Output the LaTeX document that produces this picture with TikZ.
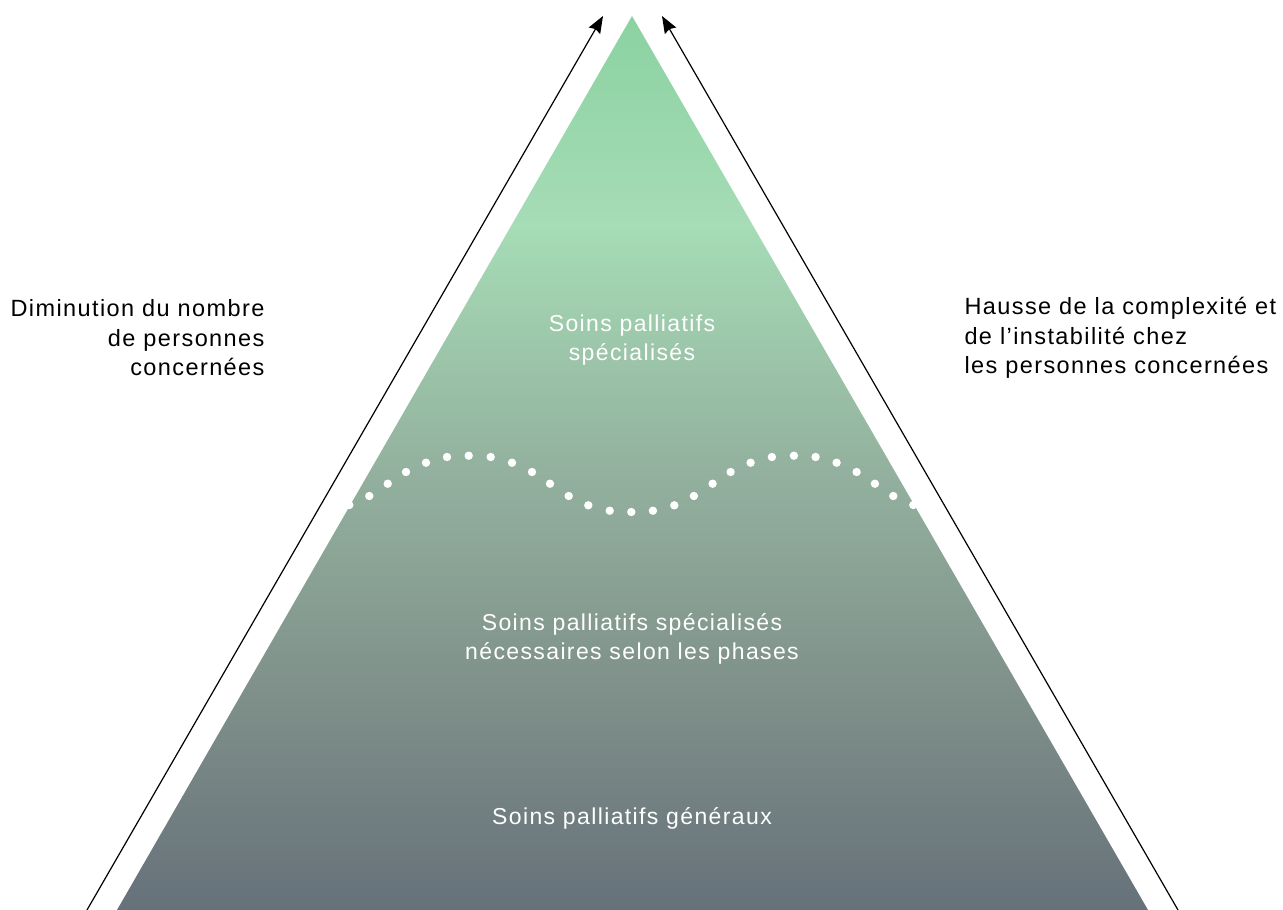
\documentclass[tikz,border=0pt]{standalone}
\usepackage{fontspec}
\setmainfont{Liberation Sans}[LetterSpace=6]
\usepackage{tikz}
\usetikzlibrary{arrows.meta}
\definecolor{pyrTop}{HTML}{8BD2A1}
\definecolor{pyrLight}{HTML}{A6DCB6}
\definecolor{pyrMid}{HTML}{93B19E}
\definecolor{pyrLow}{HTML}{7E8F89}
\definecolor{pyrBot}{HTML}{66717A}
\pgfdeclareverticalshading{pyramid}{100bp}{color(0bp)=(pyrBot); color(25bp)=(pyrBot); color(36.7bp)=(pyrLow); color(49.6bp)=(pyrMid); color(63.3bp)=(pyrLight); color(75bp)=(pyrTop); color(100bp)=(pyrTop)}
\tikzstyle{level} = [text=white, align=center, font=\fontsize{23}{29}\selectfont]
\tikzstyle{side} = [text=black, font=\fontsize{23.5}{29.5}\selectfont]
\tikzstyle{arrow} = [line width=1.2pt, -{Stealth[length=17pt, width=13pt, inset=2pt]}]
\tikzstyle{dot} = [fill=white, radius=4.2]

\begin{document}
\begin{tikzpicture}[x=1pt, y=-1pt]
        \useasboundingbox (0,0) rectangle (1283,910);
        \coordinate (apex) at (632,16);
        \coordinate (baseL) at (117,910);
        \coordinate (baseR) at (1148,910);
        \coordinate (lowL) at (87,910);
        \coordinate (tipL) at (603,16);
        \coordinate (lowR) at (1178,910);
        \coordinate (tipR) at (662,16);

        \shade [shading=pyramid] (baseL) -- (apex) -- (baseR) -- cycle;

        % dotted wave, mirrored about the middle
        \foreach \x/\y in {349.3/505, 369.3/496, 387.7/483.7, 406/472, 426/462.7, 447/457, 468.7/455.7, 490.7/457, 512/462.7, 532/472, 550/483.7, 568.7/496, 588.3/505.3, 609.7/510.7}
            {\fill [dot] (\x,\y) circle; \fill [dot] (1262.6-\x,\y) circle;}
        \fill [dot] (631.3,512) circle;

        \node (top) [level] at (632,340) {Soins palliatifs\\spécialisés};
        \node (middle) [level] at (632,639) {Soins palliatifs spécialisés\\nécessaires selon les phases};
        \node (bottom) [level] at (632,818) {Soins palliatifs généraux};

        \node (fewer) [side, anchor=east, align=right] at (268,338) {Diminution du nombre\\de personnes\\concernées};
        \node (complex) [side, anchor=west, align=left] at (961,338) {Hausse de la complexité et\\de l’instabilité chez\\les personnes concernées};

        \draw [arrow] (lowL) -- (tipL);
        \draw [arrow] (lowR) -- (tipR);
    \end{tikzpicture}
\end{document}
